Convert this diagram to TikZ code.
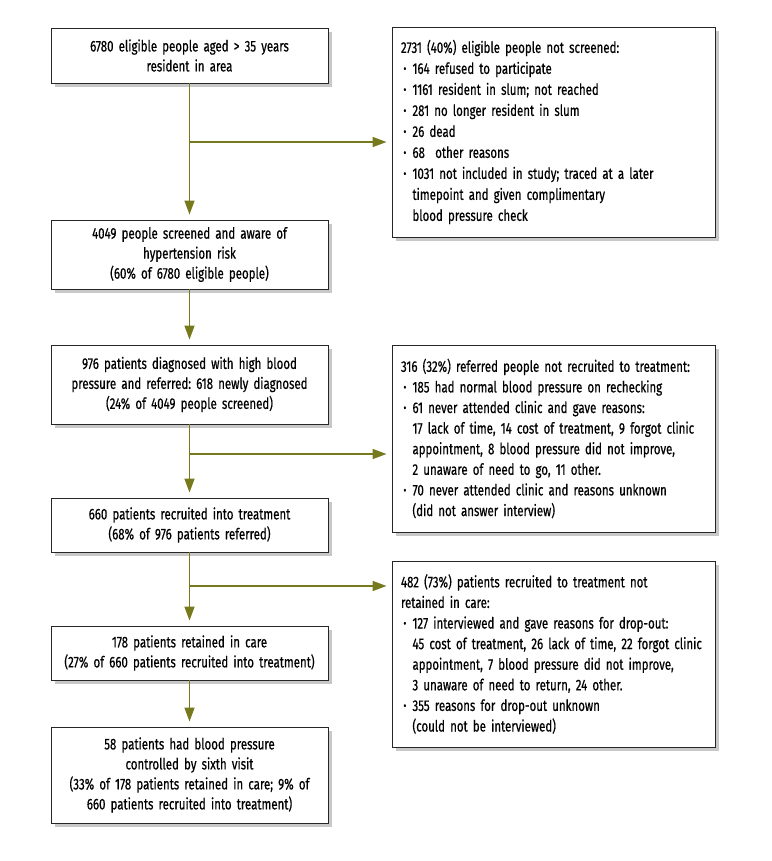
\documentclass[tikz,border=0pt]{standalone}
\usepackage{fontspec}
\setmainfont[FakeStretch=0.74,FakeBold=0.5,WordSpace=0.7]{Fira Sans}
\usetikzlibrary{arrows.meta,shadows}
\definecolor{arrowgreen}{RGB}{119,122,28}
\definecolor{shadowgray}{RGB}{200,200,200}
\newcommand\bl{\makebox[11.5pt][l]{\hspace{2.5pt}\raisebox{0.15ex}{\scalebox{0.75}{\textbullet}}}}
\newcommand\ct{\hspace*{11.5pt}}
\tikzset{
  boxbase/.style={draw=black!85, line width=0.9pt, fill=white, inner sep=0pt,
    drop shadow={shadow xshift=4pt, shadow yshift=-4pt, fill=shadowgray, opacity=1}},
  lbox/.style={boxbase, align=center, minimum width=277pt, text width=270pt,
    font=\fontsize{15.5}{20}\selectfont\frenchspacing},
  rbox/.style={boxbase, align=left, inner xsep=9pt, text width=305pt,
    font=\fontsize{15.5}{20.6}\selectfont\frenchspacing},
  arr/.style={draw=arrowgreen, line width=1.5pt, -{Triangle[length=14pt,width=10pt]}, arrowgreen, shorten >=5pt}
}
\begin{document}
\begin{tikzpicture}[x=1pt,y=-1pt]
\useasboundingbox (0,0) rectangle (771,861);
% left column
\node[lbox, minimum height=55pt] (b1) at (189.5,55.5) {6780 eligible people aged > 35 years\\resident in area};
\node[lbox, minimum height=69pt] (b2) at (189.5,254.5) {4049 people screened and aware of\\hypertension risk\\(60\% of 6780 eligible people)};
\node[lbox, minimum height=79pt] (b3) at (189.5,384.5) {976 patients diagnosed with high blood\\pressure and referred: 618 newly diagnosed\\(24\% of 4049 people screened)};
\node[lbox, minimum height=54pt] (b4) at (189.5,525) {660 patients recruited into treatment\\(68\% of 976 patients referred)};
\node[lbox, minimum height=54pt] (b5) at (189.5,653) {178 patients retained in care\\(27\% of 660 patients recruited into treatment)};
\node[lbox, minimum height=96pt] (b6) at (189.5,775) {58 patients had blood pressure\\controlled by sixth visit\\(33\% of 178 patients retained in care; 9\% of\\660 patients recruited into treatment)};
% right column
\node[rbox, minimum height=210pt, font=\fontsize{15.5}{21}\selectfont\frenchspacing] (r1) at (553.5,132) {2731 (40\%) eligible people not screened:\\
\bl164 refused to participate\\
\bl1161 resident in slum; not reached\\
\bl281 no longer resident in slum\\
\bl26 dead\\
\bl68\ \ other reasons\\
\bl1031 not included in study; traced at a later\\
\ct timepoint and given complimentary\\
\ct blood pressure check};
\node[rbox, minimum height=187pt] (r2) at (553.5,438.5) {316 (32\%) referred people not recruited to treatment:\\
\bl185 had normal blood pressure on rechecking\\
\bl61 never attended clinic and gave reasons:\\
\ct\mbox{17 lack of time, 14 cost of treatment, 9 forgot clinic}\\
\ct appointment, 8 blood pressure did not improve,\\
\ct 2 unaware of need to go, 11 other.\\
\bl70 never attended clinic and reasons unknown\\
\ct (did not answer interview)};
\node[rbox, minimum height=186pt] (r3) at (553.5,654) {482 (73\%) patients recruited to treatment not\\
retained in care:\\
\bl127 interviewed and gave reasons for drop-out:\\
\ct\mbox{45 cost of treatment, 26 lack of time, 22 forgot clinic}\\
\ct appointment, 7 blood pressure did not improve,\\
\ct 3 unaware of need to return, 24 other.\\
\bl355 reasons for drop-out unknown\\
\ct (could not be interviewed)};
% junctions
\coordinate (j1) at (189.5,142);
\coordinate (j2) at (189.5,454);
\coordinate (j3) at (189.5,586);
% connectors
\draw[arr] (b1.south) -- (b2.north);
\draw[arr] (j1) -- (j1 -| r1.west);
\draw[arr] (b2.south) -- (b3.north);
\draw[arr] (b3.south) -- (b4.north);
\draw[arr] (j2) -- (j2 -| r2.west);
\draw[arr] (b4.south) -- (b5.north);
\draw[arr] (j3) -- (j3 -| r3.west);
\draw[arr] (b5.south) -- (b6.north);
\end{tikzpicture}
\end{document}
